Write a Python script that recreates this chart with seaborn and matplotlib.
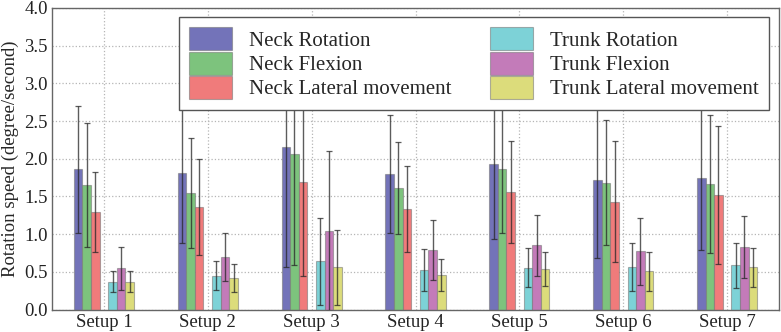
import numpy as np
import pandas as pd
import matplotlib
matplotlib.use("Agg")
import matplotlib.pyplot as plt
import seaborn as sns
from matplotlib.patches import Patch

setups = ["Setup 1", "Setup 2", "Setup 3", "Setup 4", "Setup 5", "Setup 6", "Setup 7"]
motions = ["Neck Rotation", "Neck Flexion", "Neck Lateral movement",
           "Trunk Rotation", "Trunk Flexion", "Trunk Lateral movement"]

neck_rotation = [1.86, 1.81, 2.16, 1.80, 1.93, 1.715, 1.74]
neck_rotation_sd = [0.84, 0.93, 1.60, 0.78, 1.00, 1.03, 0.95]
neck_flexion = [1.65, 1.54, 2.065, 1.61, 1.87, 1.68, 1.665]
neck_flexion_sd = [0.82, 0.73, 1.48, 0.61, 0.85, 0.83, 0.915]
neck_lateral = [1.29, 1.36, 1.69, 1.33, 1.555, 1.43, 1.515]
neck_lateral_sd = [0.53, 0.64, 1.24, 0.57, 0.675, 0.80, 0.915]
trunk_rotation = [0.37, 0.45, 0.64, 0.52, 0.555, 0.56, 0.585]
trunk_rotation_sd = [0.135, 0.19, 0.58, 0.28, 0.255, 0.317, 0.30]
trunk_flexion = [0.545, 0.70, 1.045, 0.79, 0.855, 0.77, 0.83]
trunk_flexion_sd = [0.285, 0.32, 1.06, 0.40, 0.405, 0.45, 0.41]
trunk_lateral = [0.37, 0.42, 0.56, 0.46, 0.54, 0.505, 0.56]
trunk_lateral_sd = [0.135, 0.19, 0.50, 0.21, 0.225, 0.257, 0.255]

colors = ["#7373b9", "#7dc37d", "#f07b7b", "#7dd2d7", "#c37bb9", "#dcdc7b"]

means = [neck_rotation, neck_flexion, neck_lateral, trunk_rotation, trunk_flexion, trunk_lateral]
sds = [neck_rotation_sd, neck_flexion_sd, neck_lateral_sd, trunk_rotation_sd, trunk_flexion_sd, trunk_lateral_sd]

rows = []
for m, vals, errs in zip(motions, means, sds):
    for s, v, e in zip(setups, vals, errs):
        rows.append({"setup": s, "motion": m, "speed": v, "sd": e})
df = pd.DataFrame(rows)

gap = " "
hue_order = motions[:3] + [gap] + motions[3:]
palette = dict(zip(motions, colors))
palette[gap] = "#ffffff"

sns.set_theme(style="white")
plt.rcParams["font.family"] = ["Liberation Serif", "DejaVu Serif"]

fig = plt.figure(figsize=(7.81, 3.32), dpi=100)
ax = fig.add_axes([52 / 781, 1 - 309.5 / 332, (779 - 52) / 781, (309.5 - 8) / 332])

sns.barplot(data=df, x="setup", y="speed", hue="motion", hue_order=hue_order,
            order=setups, palette=palette, errorbar=None, width=0.58,
            saturation=1, edgecolor=(0.45, 0.45, 0.45, 0.55), linewidth=0.8,
            legend=False, ax=ax, zorder=2)

# error bars positioned on the drawn bars
bars = [p for p in ax.patches if np.isfinite(p.get_height()) and p.get_height() > 0]
groups = {}
for p in bars:
    cx = p.get_x() + p.get_width() / 2
    groups.setdefault(int(round(cx)), []).append(p)
for gi, plist in groups.items():
    plist.sort(key=lambda p: p.get_x())
    for mi, p in enumerate(plist):
        cx = p.get_x() + p.get_width() / 2
        ax.errorbar(cx, p.get_height(), yerr=sds[mi][gi], fmt="none",
                    ecolor=(0.15, 0.15, 0.15, 0.75), elinewidth=1.0,
                    capsize=2, capthick=0.9, zorder=3)

ax.set_xlim(-0.5, 6.5)
ax.set_ylim(0, 4.0)
ax.set_yticks(np.arange(0, 4.01, 0.5))
ax.set_yticklabels([f"{v:.1f}" for v in np.arange(0, 4.01, 0.5)])
ax.set_xlabel("")
ax.set_ylabel("Rotation speed (degree/second)", fontsize=13.5, labelpad=4)
ax.tick_params(axis="both", length=0, labelsize=13.5, pad=3, colors="#222222")
ax.grid(True, linestyle=":", color="#b5b5b5", linewidth=0.9)
ax.set_axisbelow(True)
for sp in ax.spines.values():
    sp.set_visible(True)
    sp.set_color("#666666")
    sp.set_linewidth(1.0)

handles = [Patch(facecolor=c, edgecolor=(0.45, 0.45, 0.45, 0.55), linewidth=0.8) for c in colors]
leg = ax.legend(handles, motions, ncol=2, loc="upper right",
                bbox_to_anchor=(769 / 781, 1 - 17 / 332), bbox_transform=fig.transFigure,
                fontsize=15, frameon=True, fancybox=False, framealpha=1,
                edgecolor="#555555", handlelength=2.07, handleheight=1.3,
                labelspacing=0.05, columnspacing=1.85, handletextpad=0.8,
                borderpad=0.5, borderaxespad=0)
leg.get_frame().set_linewidth(1.0)
leg.set_zorder(10)

fig.savefig("out.png", dpi=100)
